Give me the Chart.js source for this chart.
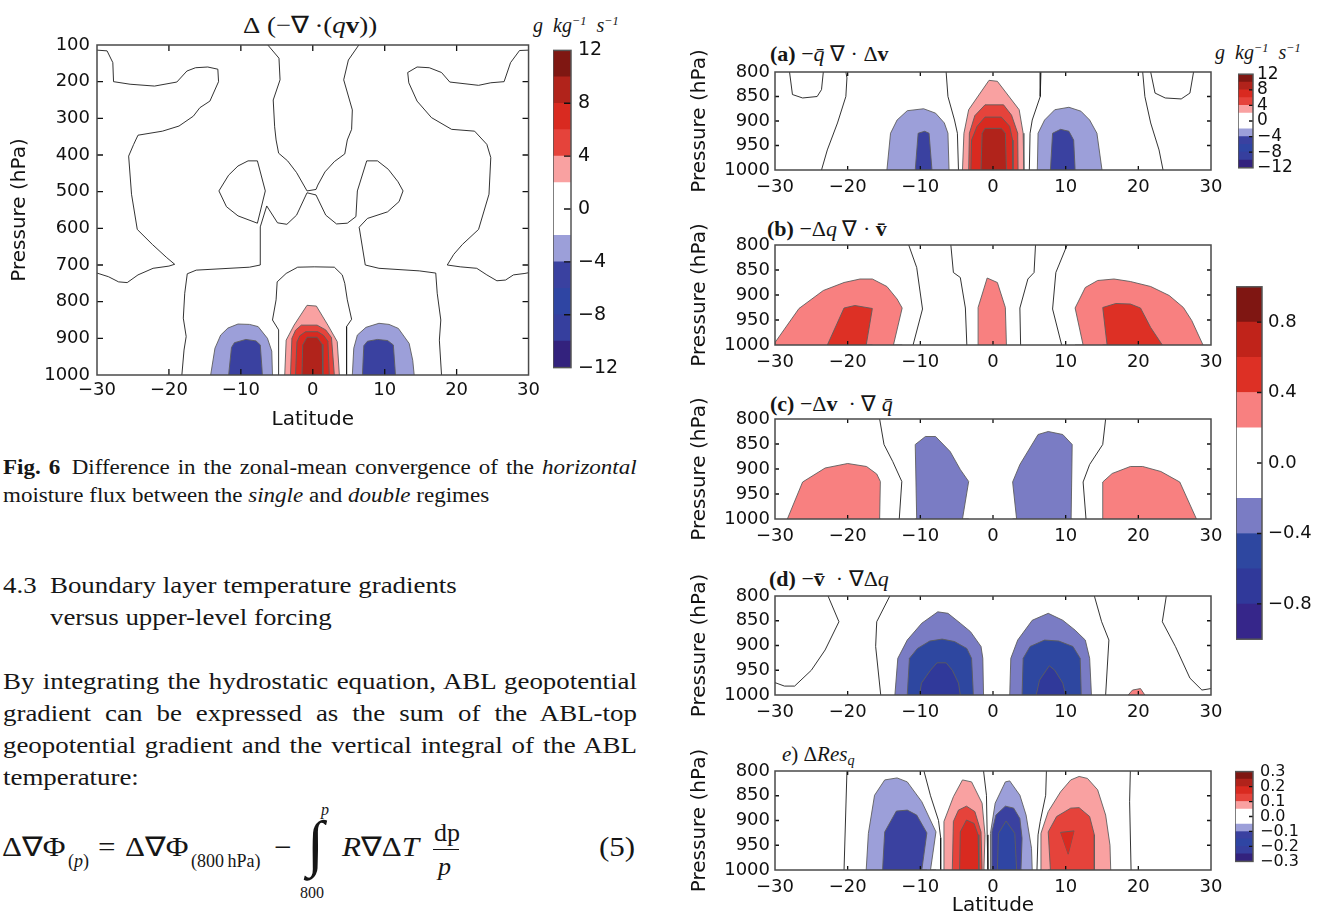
<!DOCTYPE html>
<html><head><meta charset="utf-8">
<script src="https://cdn.jsdelivr.net/npm/chart.js@4.4.1/dist/chart.umd.min.js"></script>
<style>
html,body{margin:0;padding:0;background:#fff;}
body{width:1322px;height:914px;overflow:hidden;position:relative;}
canvas{position:absolute;}
.t{position:absolute;white-space:nowrap;font-family:"Liberation Serif","Times New Roman",Times,serif;color:#161616;line-height:1;transform-origin:0 0;}
.t sup{font-size:0.62em;vertical-align:0.55em;line-height:0;}
.t sub{font-size:0.68em;vertical-align:-0.3em;line-height:0;}
.j{white-space:normal;text-align:justify;text-align-last:justify;}
</style></head><body>

<!-- main figure texts -->
<div class="t" style="left:243px;top:13px;font-size:24px;transform:scaleX(1.12)">Δ&nbsp;(−∇&thinsp;·(<i>q</i><b>v</b>))</div>
<div class="t" style="left:533px;top:15px;font-size:20px;font-style:italic">g&ensp;kg<sup>−1</sup>&ensp;s<sup>−1</sup></div>

<!-- right panel texts -->
<div class="t" style="left:770px;top:43px;font-size:22px"><b>(a)</b>&nbsp;−<i>q&#772;</i>&nbsp;∇&nbsp;·&nbsp;Δ<b>v</b></div>
<div class="t" style="left:1215px;top:42px;font-size:20px;font-style:italic">g&ensp;kg<sup>−1</sup>&ensp;s<sup>−1</sup></div>
<div class="t" style="left:767px;top:218px;font-size:22px"><b>(b)</b>&nbsp;−Δ<i>q</i>&nbsp;∇&nbsp;·&nbsp;<b>v&#772;</b></div>
<div class="t" style="left:770px;top:393px;font-size:22px"><b>(c)</b>&nbsp;−Δ<b>v</b>&nbsp;&nbsp;·&nbsp;∇&nbsp;<i>q&#772;</i></div>
<div class="t" style="left:769px;top:568px;font-size:22px"><b>(d)</b>&nbsp;−<b>v&#772;</b>&nbsp;&nbsp;·&nbsp;∇Δ<i>q</i></div>
<div class="t" style="left:782px;top:744px;font-size:21px"><i>e</i>)&nbsp;Δ<i>Res</i><sub><i>q</i></sub></div>

<!-- caption -->
<div class="t j" style="left:3px;top:457px;font-size:20px;width:551px;transform:scaleX(1.15)"><b>Fig. 6</b>&ensp;Difference in the zonal-mean convergence of the <i>horizontal</i></div>
<div class="t" style="left:3px;top:485px;font-size:20px;transform:scaleX(1.15)">moisture flux between the <i>single</i> and <i>double</i> regimes</div>

<!-- section heading -->
<div class="t" style="left:3px;top:573px;font-size:24px;transform:scaleX(1.12)">4.3</div>
<div class="t" style="left:50px;top:573px;font-size:24px;transform:scaleX(1.12)">Boundary layer temperature gradients</div>
<div class="t" style="left:50px;top:605px;font-size:24px;transform:scaleX(1.12)">versus upper-level forcing</div>

<!-- paragraph -->
<div class="t j" style="left:3px;top:669px;font-size:24px;width:566px;transform:scaleX(1.12)">By integrating the hydrostatic equation, ABL geopotential</div>
<div class="t j" style="left:3px;top:701px;font-size:24px;width:566px;transform:scaleX(1.12)">gradient can be expressed as the sum of the ABL-top</div>
<div class="t j" style="left:3px;top:733px;font-size:24px;width:566px;transform:scaleX(1.12)">geopotential gradient and the vertical integral of the ABL</div>
<div class="t" style="left:3px;top:765px;font-size:24px;transform:scaleX(1.12)">temperature:</div>

<!-- equation (5) -->
<div class="t" style="left:2px;top:834px;font-size:27px;transform:scaleX(1.15)">Δ∇Φ</div>
<div class="t" style="left:68px;top:852px;font-size:18px">(<i>p</i>)</div>
<div class="t" style="left:98px;top:834px;font-size:27px;transform:scaleX(1.15)">=</div>
<div class="t" style="left:125px;top:834px;font-size:27px;transform:scaleX(1.15)">Δ∇Φ</div>
<div class="t" style="left:191px;top:852px;font-size:18px">(800&thinsp;hPa)</div>
<div class="t" style="left:274px;top:834px;font-size:27px;transform:scaleX(1.15)">−</div>
<div class="t" style="left:307px;top:812px;font-size:62px">∫</div>
<div class="t" style="left:321px;top:802px;font-size:16px"><i>p</i></div>
<div class="t" style="left:300px;top:885px;font-size:16px">800</div>
<div class="t" style="left:342px;top:834px;font-size:27px;transform:scaleX(1.15)"><i>R</i>∇Δ<i>T</i></div>
<div class="t" style="left:434px;top:820px;font-size:26px">dp</div>
<div style="position:absolute;left:433px;top:849px;width:26px;height:1.3px;background:#161616"></div>
<div class="t" style="left:438px;top:854px;font-size:26px"><i>p</i></div>
<div class="t" style="left:599px;top:834px;font-size:27px;transform:scaleX(1.15)">(5)</div>

<script>
// ================= DATA =================
// axis tick labels
const LAT_TICKS = [-30, -20, -10, 0, 10, 20, 30];
const P_TICKS_MAIN = [100, 200, 300, 400, 500, 600, 700, 800, 900, 1000];
const P_TICKS_ABL = [800, 850, 900, 950, 1000];

// colour-bar levels and tick labels
const LEVELS_Q = [-12, -10, -8, -6, -4, -2, 2, 4, 6, 8, 10, 12];
const CB_TICKS_Q = [-12, -8, -4, 0, 4, 8, 12];
const LEVELS_BD = [-1, -0.8, -0.6, -0.4, -0.2, 0.2, 0.4, 0.6, 0.8, 1];
const CB_TICKS_BD = [-0.8, -0.4, 0, 0.4, 0.8];
const LEVELS_E = [-0.3, -0.25, -0.2, -0.15, -0.1, -0.05, 0.05, 0.1, 0.15, 0.2, 0.25, 0.3];
const CB_TICKS_E = [-0.3, -0.2, -0.1, 0, 0.1, 0.2, 0.3];

// ---- main panel: filled contours [latitude, pressure] ----
const MAIN_FILL_M2_W = [[-14.2,1000],[-13.6,927],[-12.8,891],[-11.8,872],[-10.4,861],[-8.8,862],[-7.6,868],[-6.3,900],[-5.7,935],[-5.6,1000]];
const MAIN_FILL_M4_W = [[-11.7,1000],[-11.3,925],[-10.9,912],[-9.3,903],[-7.9,907],[-7.3,918],[-7.0,1000]];
const MAIN_FILL_M2_E = [[5.5,1000],[5.7,927],[6.2,891],[7.4,870],[9.2,859],[10.6,862],[11.9,873],[13.4,914],[13.9,960],[14.1,1000]];
const MAIN_FILL_M4_E = [[6.9,1000],[7.1,920],[7.6,908],[9.0,903],[10.4,906],[11.2,918],[11.5,1000]];
const MAIN_FILL_P2 = [[-3.9,1000],[-3.7,905],[-2.6,864],[-0.8,810],[0.5,812],[2.1,864],[3.4,909],[3.7,1000]];
const MAIN_FILL_P4 = [[-3.1,1000],[-2.9,900],[-2.4,878],[-1.6,864],[0.6,864],[1.8,877],[2.6,898],[3.0,1000]];
const MAIN_FILL_P6 = [[-2.4,1000],[-2.2,910],[-1.8,893],[-1.0,882],[0.7,882],[1.5,892],[2.1,908],[2.3,1000]];
const MAIN_FILL_P8 = [[-1.5,1000],[-1.4,918],[-0.8,897],[0.6,897],[1.3,916],[1.4,1000]];
// ---- main panel: zero contour lines ----
const MAIN_ZERO_NW = [[-30,114],[-28.6,116],[-27.8,148],[-27.7,200],[-25.4,207],[-22.0,212],[-18.9,201],[-17.5,171],[-16.3,162],[-14.6,160],[-13.2,166],[-13.1,200],[-14.3,253],[-15.7,271],[-16.6,294],[-18.6,321],[-20.9,335],[-24.3,346],[-24.9,371],[-25.6,403],[-25.2,507],[-24.4,603],[-22.3,644],[-20.3,680],[-19.2,698],[-20.0,703],[-22.2,709],[-24.3,727],[-25.8,748],[-27.0,746],[-28.4,732],[-30,722]];
const MAIN_ZERO_NE = [[30,114],[28.75,115],[27.5,148],[26.6,200],[24.75,203],[23.05,210],[19.05,201],[17.9,175],[16.2,162],[14.5,160],[13.2,175],[13.35,203],[14.5,253],[16.5,298],[19.3,330],[22.5,335],[24.2,371],[24.75,407],[24.5,507],[23.05,603],[20.8,644],[19.6,671],[18.7,700],[20.5,705],[22.8,709],[24.2,727],[25.6,743],[26.8,741],[27.9,727],[29.5,723],[30,721]];
const MAIN_ZERO_TOP = [[-6.25,100],[-4.7,136],[-4.55,195],[-5.5,250],[-5.3,323],[-5.1,359],[-4.75,395],[-3.5,416],[-2.25,448],[-0.8,498],[0.45,494],[0.7,482],[1.7,446],[3.0,418],[4.45,397],[4.8,359],[5.4,330],[5.5,277],[4.3,195],[4.95,141],[6.4,100]];
const MAIN_ZERO_LOOP_W = [[-7.7,416],[-9.0,416],[-10.4,430],[-11.7,455],[-13.05,498],[-12.0,541],[-10.4,566],[-7.7,586],[-6.6,498],[-7.7,416]];
const MAIN_ZERO_MID = [[-18.2,1000],[-17.9,932],[-17.6,895],[-18.0,845],[-17.8,777],[-17.45,724],[-16.2,714],[-8.8,706],[-7.3,700],[-7.3,596],[-6.4,539],[-4.9,585],[-3.6,589],[-2.25,564],[-0.8,503],[0.45,509],[1.8,564],[3.3,588],[4.8,586],[6.0,568],[6.2,498],[7.5,416],[9.0,416],[10.5,439],[11.85,473],[12.55,498],[12.0,527],[10.4,555],[7.6,573],[6.45,597],[7.3,700],[9.2,709],[14.8,716],[17.1,722],[17.3,777],[17.8,850],[17.6,905],[17.9,1000]];
const MAIN_ZERO_ARCH = [[-4.75,1000],[-4.75,877],[-5.6,850],[-5.1,795],[-4.95,746],[-3.7,723],[-2.1,706],[0.2,705],[3.0,706],[4.1,727],[4.45,750],[4.8,795],[5.4,848],[4.7,868],[4.7,1000]];

// ---- panel (a) ----
const A_FILL_M2_W = [[-14.6,1000],[-14.1,925],[-13.2,898],[-11.8,879],[-9.55,875],[-7.9,884],[-6.7,904],[-6.2,925],[-6.05,1000]];
const A_FILL_M4_W = [[-10.7,1000],[-10.3,925],[-9.4,921],[-8.8,925],[-8.4,1000]];
const A_FILL_M2_E = [[6.1,1000],[6.2,925],[7.1,898],[8.5,877],[10.45,872],[12.1,880],[13.3,898],[14.3,925],[15.0,1000]];
const A_FILL_M4_E = [[7.9,1000],[8.2,925],[9.3,917],[10.45,921],[11.1,939],[11.3,1000]];
const A_FILL_P2 = [[-4.2,1000],[-4.0,925],[-3.35,877],[-0.55,817],[0.6,819],[3.6,877],[4.15,925],[4.25,1000]];
const A_FILL_P4 = [[-3.35,1000],[-3.25,925],[-2.5,889],[-1.1,867],[1.45,867],[2.55,888],[3.4,925],[3.45,1000]];
const A_FILL_P6 = [[-3.05,1000],[-2.95,939],[-2.2,911],[-1.1,892],[1.15,892],[2.3,911],[2.7,939],[2.75,1000]];
const A_FILL_P8 = [[-1.65,1000],[-1.5,925],[-1.1,915],[1.15,915],[1.7,925],[1.85,1000]];
const A_ZERO_1 = [[-28.0,800],[-27.6,846],[-26.2,853],[-24.2,850],[-23.6,836],[-23.35,800]];
const A_ZERO_2 = [[-20.25,800],[-20.1,812],[-20.25,850],[-21.4,904],[-22.8,959],[-23.6,1000]];
const A_ZERO_3 = [[-6.45,800],[-6.2,850],[-5.3,898],[-4.9,925],[-4.75,1000]];
const A_ZERO_4 = [[6.6,800],[6.5,850],[5.4,898],[5.1,925],[5.0,1000]];
const A_ZERO_5 = [[20.6,800],[20.9,850],[21.7,904],[22.85,959],[23.4,1000]];
const A_ZERO_6 = [[21.7,800],[22.3,843],[23.7,853],[25.9,855],[27.1,843],[27.6,800]];

// ---- panel (b) ----
const B_FILL_P02_W = [[-30,1000],[-30,995],[-26.7,927],[-23.35,891],[-20.5,875],[-18.3,868],[-16.6,868],[-14.6,883],[-13.2,908],[-12.5,926],[-13.7,1000]];
const B_FILL_P04_W = [[-22.8,1000],[-21.8,968],[-20.5,926],[-19.0,921],[-16.6,927],[-17.45,1000]];
const B_FILL_P02_C = [[-2.05,1000],[-2.05,925],[-0.8,866],[0.6,875],[1.7,925],[1.85,1000]];
const B_FILL_P02_E = [[12.4,1000],[11.3,926],[12.7,885],[14.4,871],[16.65,868],[18.9,873],[21.7,883],[24.25,901],[26.2,925],[27.35,951],[28.9,1000]];
const B_FILL_P04_E = [[15.7,1000],[15.1,925],[16.9,917],[18.9,918],[20.3,926],[21.7,965],[23.3,1000]];
const B_ZERO_1 = [[-11.6,800],[-10.5,845],[-9.7,928],[-11.0,1000]];
const B_ZERO_2 = [[-5.8,800],[-5.45,855],[-4.5,865],[-3.8,926],[-3.6,1000]];
const B_ZERO_3 = [[5.85,800],[5.65,855],[4.8,868],[3.7,926],[3.8,1000]];
const B_ZERO_4 = [[10.2,800],[8.65,855],[8.2,928],[9.45,1000]];

// ---- panel (c) ----
const C_FILL_P02_W = [[-28.3,1000],[-26.2,926],[-23.1,898],[-20.0,889],[-17.4,895],[-16.0,910],[-15.5,925],[-15.6,1000]];
const C_FILL_M02_W = [[-10.5,1000],[-10.7,851],[-9.3,835],[-7.9,835],[-5.9,865],[-4.5,901],[-3.35,925],[-4.2,1000]];
const C_FILL_M02_E = [[3.25,1000],[2.7,926],[3.7,891],[6.2,831],[7.6,825],[9.6,831],[10.9,851],[10.75,1000]];
const C_FILL_P02_E = [[15.1,1000],[15.1,926],[16.4,909],[18.9,895],[20.6,895],[23.1,905],[25.7,926],[28.0,1000]];
const C_ZERO_1 = [[-15.6,800],[-15.0,851],[-13.8,885],[-12.55,925],[-12.9,1000]];
const C_ZERO_2 = [[15.5,800],[15.1,851],[13.3,891],[12.4,926],[12.8,1000]];

// ---- panel (d) ----
const D_FILL_M02_W = [[-13.5,1000],[-13.1,926],[-11.8,889],[-9.8,855],[-7.6,832],[-6.2,835],[-4.5,855],[-3.1,872],[-1.65,902],[-1.4,926],[-1.3,1000]];
const D_FILL_M04_W = [[-11.8,1000],[-11.5,926],[-10.4,906],[-8.7,891],[-7.0,887],[-5.3,892],[-3.6,906],[-2.95,926],[-2.7,1000]];
const D_FILL_M06_W = [[-10.1,1000],[-9.85,976],[-8.6,950],[-7.7,935],[-6.45,935],[-5.6,950],[-4.75,976],[-4.5,1000]];
const D_FILL_M02_E = [[2.3,1000],[2.45,926],[3.4,889],[5.4,849],[7.6,835],[9.6,849],[11.3,869],[12.7,889],[13.3,926],[13.55,1000]];
const D_FILL_M04_E = [[4.0,1000],[4.15,926],[5.1,902],[7.1,889],[9.05,891],[11.0,902],[12.0,926],[12.15,1000]];
const D_FILL_M06_E = [[5.95,1000],[6.4,970],[7.75,941],[8.5,950],[9.6,976],[10.0,1000]];
const D_FILL_P02_E = [[18.6,1000],[19.2,990],[20.3,987],[20.9,1000]];
const D_ZERO_1 = [[-30,975],[-28.7,982],[-27.3,982],[-25.0,950],[-23.1,909],[-21.2,852],[-22.7,800]];
const D_ZERO_2 = [[-14.2,800],[-16.0,852],[-16.15,902],[-15.45,1000]];
const D_ZERO_3 = [[13.95,800],[14.95,852],[15.95,889],[15.5,1000]];
const D_ZERO_4 = [[23.85,800],[23.3,852],[25.1,902],[27.1,966],[28.75,990],[30,987]];

// ---- panel (e) ----
const E_FILL_M005_W = [[-17.45,1000],[-17.15,926],[-16.3,849],[-14.9,818],[-13.2,814],[-11.8,822],[-9.8,862],[-7.85,923],[-8.6,1000]];
const E_FILL_M010_W = [[-15.2,1000],[-14.9,923],[-13.3,881],[-11.8,879],[-10.5,889],[-9.1,925],[-9.8,1000]];
const E_FILL_P005_CW = [[-6.75,1000],[-6.75,902],[-5.45,852],[-4.2,818],[-2.95,822],[-1.5,865],[-1.1,929],[-1.25,1000]];
const E_FILL_P010_CW = [[-5.6,1000],[-5.45,902],[-4.75,879],[-3.65,871],[-2.5,882],[-1.65,923],[-1.5,1000]];
const E_FILL_P015_CW = [[-4.6,1000],[-4.5,923],[-3.65,899],[-2.6,906],[-2.05,929],[-1.95,1000]];
const E_FILL_M005_CE = [[-0.35,1000],[-0.35,926],[0.3,865],[1.7,822],[2.3,820],[3.7,849],[4.55,889],[5.3,956],[5.4,1000]];
const E_FILL_M010_CE = [[-0.15,1000],[-0.15,923],[0.4,889],[1.7,871],[2.85,875],[3.7,896],[4.0,936],[3.85,1000]];
const E_FILL_M015_CE = [[0.6,1000],[0.75,926],[1.8,901],[3.0,926],[3.25,1000]];
const E_FILL_P005_E = [[6.5,1000],[6.6,926],[7.6,882],[9.3,842],[10.7,818],[11.85,811],[13.0,815],[14.4,838],[15.5,889],[16.1,950],[16.2,1000]];
const E_FILL_P010_E = [[7.9,1000],[7.6,923],[8.75,892],[10.7,875],[11.85,874],[13.3,892],[13.95,929],[13.95,1000]];
const E_BAND_P015_E_TOP = [[9.3,924],[11.15,921]];
const E_BAND_P015_E_BOTTOM = [[9.3,924],[10.35,968],[11.15,921]];
const E_ZERO_1 = [[-20.1,800],[-20.5,1000]];
const E_ZERO_2 = [[-9.5,800],[-8.6,850],[-7.5,900],[-7.2,935],[-7.2,1000]];
const E_ZERO_3 = [[-1.3,800],[-0.9,849],[-0.8,929],[-0.7,1000]];
const E_ZERO_4 = [[7.35,800],[7.25,849],[6.5,902],[6.2,929],[6.05,1000]];
const E_ZERO_5 = [[18.9,800],[18.8,862],[19.0,1000]];

// panel groupings: [contour level, polygon]
const MAIN_FILLED = [[-2,MAIN_FILL_M2_W],[-4,MAIN_FILL_M4_W],[-2,MAIN_FILL_M2_E],[-4,MAIN_FILL_M4_E],[2,MAIN_FILL_P2],[4,MAIN_FILL_P4],[6,MAIN_FILL_P6],[8,MAIN_FILL_P8]];
const MAIN_ZERO = [MAIN_ZERO_NW, MAIN_ZERO_NE, MAIN_ZERO_TOP, MAIN_ZERO_LOOP_W, MAIN_ZERO_MID, MAIN_ZERO_ARCH];
const A_FILLED = [[-2,A_FILL_M2_W],[-4,A_FILL_M4_W],[-2,A_FILL_M2_E],[-4,A_FILL_M4_E],[2,A_FILL_P2],[4,A_FILL_P4],[6,A_FILL_P6],[8,A_FILL_P8]];
const A_ZERO = [A_ZERO_1, A_ZERO_2, A_ZERO_3, A_ZERO_4, A_ZERO_5, A_ZERO_6];
const B_FILLED = [[0.2,B_FILL_P02_W],[0.4,B_FILL_P04_W],[0.2,B_FILL_P02_C],[0.2,B_FILL_P02_E],[0.4,B_FILL_P04_E]];
const B_ZERO = [B_ZERO_1, B_ZERO_2, B_ZERO_3, B_ZERO_4];
const C_FILLED = [[0.2,C_FILL_P02_W],[-0.2,C_FILL_M02_W],[-0.2,C_FILL_M02_E],[0.2,C_FILL_P02_E]];
const C_ZERO = [C_ZERO_1, C_ZERO_2];
const D_FILLED = [[-0.2,D_FILL_M02_W],[-0.4,D_FILL_M04_W],[-0.6,D_FILL_M06_W],[-0.2,D_FILL_M02_E],[-0.4,D_FILL_M04_E],[-0.6,D_FILL_M06_E],[0.2,D_FILL_P02_E]];
const D_ZERO = [D_ZERO_1, D_ZERO_2, D_ZERO_3, D_ZERO_4];
const E_FILLED = [[-0.05,E_FILL_M005_W],[-0.1,E_FILL_M010_W],[0.05,E_FILL_P005_CW],[0.1,E_FILL_P010_CW],[0.15,E_FILL_P015_CW],[-0.05,E_FILL_M005_CE],[-0.1,E_FILL_M010_CE],[-0.15,E_FILL_M015_CE],[0.05,E_FILL_P005_E],[0.1,E_FILL_P010_E]];
const E_BANDS = [[0.15,E_BAND_P015_E_TOP,E_BAND_P015_E_BOTTOM]];
const E_ZERO = [E_ZERO_1, E_ZERO_2, E_ZERO_3, E_ZERO_4, E_ZERO_5];

// ================= STYLE =================
const PAL_11 = ['#33227d','#363f9e','#2f45a3','#3a41a0','#9c9fd9','#ffffff','#f9a1a1','#e5433b','#d92a20','#b1231b','#7f1712'];
const PAL_9 = ['#36268a','#30399a','#2e47a0','#7a7cc4','#ffffff','#f88080','#dd3025','#c0231a','#7f1612'];
const FILL_EDGE = '#5e5e5e';
const ZERO_LINE = '#1c1c1c';

Chart.defaults.font.family = 'DejaVu Sans';
Chart.defaults.color = '#111';

function fmt(v, d) { return (v < -1e-9 ? '\u2212' : '') + Math.abs(v).toFixed(d); }
function toXY(pts) { return pts.map(p => ({x: p[0], y: p[1]})); }
function levelColor(lv, levels, pal) {
  const i = levels.findIndex(b => Math.abs(b - lv) < 1e-9);
  return lv > 0 ? pal[i] : pal[i - 1];
}
// close an arch-shaped contour onto the surface (base) so the filler spans its full width
function prepFill(pts, base) {
  const xs = pts.map(p => p[0]);
  const mn = Math.min(...xs), mx = Math.max(...xs);
  const out = pts.slice();
  if (out[0][0] > mn) out.unshift([mn - 0.01, base]);
  if (out[out.length - 1][0] < mx) out.push([mx + 0.01, base]);
  return toXY(out);
}

const framePlugin = {
  id: 'frame',
  afterDatasetsDraw(chart, args, o) {
    const {ctx, chartArea: a} = chart;
    ctx.save();
    const tl = o.tick || 0;
    ctx.strokeStyle = '#111';
    ctx.lineWidth = o.tickWidth || 1.3;
    ctx.beginPath();
    if (o.xTicks) {
      const s = chart.scales.x;
      s.ticks.forEach(t => {
        const px = s.getPixelForValue(t.value);
        if (px < a.left + 2 || px > a.right - 2) return;
        ctx.moveTo(px, a.bottom); ctx.lineTo(px, a.bottom - tl);
        ctx.moveTo(px, a.top); ctx.lineTo(px, a.top + tl);
      });
    }
    if (o.yTicks) {
      const s = chart.scales.y;
      s.ticks.forEach(t => {
        const py = s.getPixelForValue(t.value);
        if (py < a.top + 2 || py > a.bottom - 2) return;
        if (o.yTicks !== 'right') { ctx.moveTo(a.left, py); ctx.lineTo(a.left + tl, py); }
        ctx.moveTo(a.right, py); ctx.lineTo(a.right - tl, py);
      });
    }
    ctx.stroke();
    ctx.lineWidth = o.width || 1.5;
    ctx.strokeStyle = o.color || '#4a4a4a';
    ctx.strokeRect(a.left, a.top, a.right - a.left, a.bottom - a.top);
    ctx.restore();
  }
};

function addCanvas(left, top, w, h) {
  const cv = document.createElement('canvas');
  cv.width = w; cv.height = h;
  cv.style.left = left + 'px'; cv.style.top = top + 'px';
  cv.style.width = w + 'px'; cv.style.height = h + 'px';
  document.body.appendChild(cv);
  return cv;
}

function makePanel(o) {
  const cv = addCanvas(o.left, o.top, o.w, o.h);
  const ds = [];
  o.filled.forEach(([lv, pts]) => ds.push({
    data: prepFill(pts, o.base), fill: {target: {value: o.base}},
    backgroundColor: levelColor(lv, o.levels, o.pal), borderColor: FILL_EDGE, borderWidth: 0.9
  }));
  (o.bands || []).forEach(([lv, top, bottom]) => {
    ds.push({data: toXY(bottom), fill: false, borderColor: FILL_EDGE, borderWidth: 0.9});
    ds.push({data: toXY(top), fill: '-1', backgroundColor: levelColor(lv, o.levels, o.pal), borderColor: FILL_EDGE, borderWidth: 0.9});
  });
  o.lines.forEach(pts => ds.push({data: toXY(pts), fill: false, borderColor: ZERO_LINE, borderWidth: 0.9}));
  ds.forEach((d, i) => { d.order = -i; d.pointRadius = 0; d.pointHoverRadius = 0; d.tension = 0; });
  new Chart(cv, {
    type: 'line',
    data: {datasets: ds},
    options: {
      responsive: false, animation: false, events: [], devicePixelRatio: 1,
      layout: {padding: {left: o.padL, right: o.padR, top: o.padT, bottom: 0}},
      plugins: {legend: {display: false}, tooltip: {enabled: false}, frame: {tick: o.tickLen, xTicks: true, yTicks: 'both'}},
      elements: {line: {tension: 0, borderJoinStyle: 'round'}, point: {radius: 0, hitRadius: 0}},
      scales: {
        x: {
          type: 'linear', min: -30, max: 30,
          afterBuildTicks: s => { s.ticks = LAT_TICKS.map(v => ({value: v})); },
          ticks: {autoSkip: false, maxRotation: 0, padding: o.xPad, color: '#111', font: {size: o.tickFont}, callback: v => fmt(v, 0)},
          grid: {display: false, drawTicks: false}, border: {display: false},
          title: {display: !!o.xTitle, text: o.xTitle || '', color: '#111', font: {size: 20}, padding: 0},
          afterFit: s => { s.height = o.xH; }
        },
        y: {
          type: 'linear', reverse: true, min: o.pmin, max: o.pmax,
          afterBuildTicks: s => { s.ticks = o.pticks.map(v => ({value: v})); },
          ticks: {autoSkip: false, padding: o.yPad, color: '#111', font: {size: o.tickFont}, callback: v => String(v)},
          grid: {display: false, drawTicks: false}, border: {display: false},
          title: {display: true, text: 'Pressure (hPa)', color: '#111', font: {size: 20}, padding: 0},
          afterFit: s => { s.width = o.yW; }
        }
      }
    },
    plugins: [framePlugin]
  });
}

function makeColorbar(o) {
  const cv = addCanvas(o.left, o.top - 12, o.barW + o.yW, o.barH + 24);
  const ds = [];
  for (let i = 0; i < o.levels.length - 1; i++) {
    ds.push({data: [[o.levels[i], o.levels[i + 1]]], backgroundColor: o.pal[i], borderWidth: 0,
             barPercentage: 1, categoryPercentage: 1, grouped: false});
  }
  new Chart(cv, {
    type: 'bar',
    data: {labels: [''], datasets: ds},
    options: {
      responsive: false, animation: false, events: [], devicePixelRatio: 1,
      layout: {padding: {left: 0, right: 0, top: 12, bottom: 12}},
      plugins: {legend: {display: false}, tooltip: {enabled: false}, frame: {tick: o.tickLen, yTicks: 'right', color: '#555'}},
      scales: {
        x: {display: false},
        y: {
          position: 'right', min: o.levels[0], max: o.levels[o.levels.length - 1],
          afterBuildTicks: s => { s.ticks = o.ticks.map(v => ({value: v})); },
          ticks: {autoSkip: false, padding: o.pad, color: '#111', font: {size: o.font}, callback: v => fmt(v, o.dec)},
          grid: {display: false, drawTicks: false}, border: {display: false},
          afterFit: s => { s.width = o.yW; }
        }
      }
    },
    plugins: [framePlugin]
  });
}

// main panel
makePanel({left: 0, top: 0, w: 545, h: 432, padL: 8, padR: 15, padT: 45, yW: 89, xH: 57,
  pmin: 100, pmax: 1000, pticks: P_TICKS_MAIN, base: 1000, tickFont: 18, xPad: 5, yPad: 7,
  xTitle: 'Latitude', tickLen: 6, levels: LEVELS_Q, pal: PAL_11, filled: MAIN_FILLED, lines: MAIN_ZERO});
makeColorbar({left: 553, top: 44, barW: 18, barH: 330, yW: 60, levels: LEVELS_Q, pal: PAL_11, ticks: CB_TICKS_Q, dec: 0, font: 19, pad: 7, tickLen: 7});

// right panels (canvas top = plot top - 40 so the rotated axis title is not clipped)
const SMALL = {left: 686, w: 545, padL: 2, padR: 20, padT: 40, yW: 87, xH: 30, pmin: 800, pmax: 1000,
  pticks: P_TICKS_ABL, base: 1000, tickFont: 18, xPad: 7, yPad: 5, tickLen: 4};
makePanel(Object.assign({}, SMALL, {top: 32, h: 168, levels: LEVELS_Q, pal: PAL_11, filled: A_FILLED, lines: A_ZERO}));
makeColorbar({left: 1238, top: 72, barW: 15, barH: 98, yW: 60, levels: LEVELS_Q, pal: PAL_11, ticks: CB_TICKS_Q, dec: 0, font: 17, pad: 4, tickLen: 4});
makePanel(Object.assign({}, SMALL, {top: 205, h: 170, levels: LEVELS_BD, pal: PAL_9, filled: B_FILLED, lines: B_ZERO}));
makePanel(Object.assign({}, SMALL, {top: 379, h: 170, levels: LEVELS_BD, pal: PAL_9, filled: C_FILLED, lines: C_ZERO}));
makePanel(Object.assign({}, SMALL, {top: 556, h: 169, levels: LEVELS_BD, pal: PAL_9, filled: D_FILLED, lines: D_ZERO}));
makeColorbar({left: 1236, top: 282, barW: 26, barH: 362, yW: 60, levels: LEVELS_BD, pal: PAL_9, ticks: CB_TICKS_BD, dec: 1, font: 18, pad: 6, tickLen: 5});
makePanel(Object.assign({}, SMALL, {top: 731, h: 187, xH: 48, xTitle: 'Latitude', levels: LEVELS_E, pal: PAL_11, filled: E_FILLED, bands: E_BANDS, lines: E_ZERO}));
makeColorbar({left: 1235, top: 767, barW: 18, barH: 99, yW: 70, levels: LEVELS_E, pal: PAL_11, ticks: CB_TICKS_E, dec: 1, font: 16, pad: 7, tickLen: 4});
</script>
</body></html>
